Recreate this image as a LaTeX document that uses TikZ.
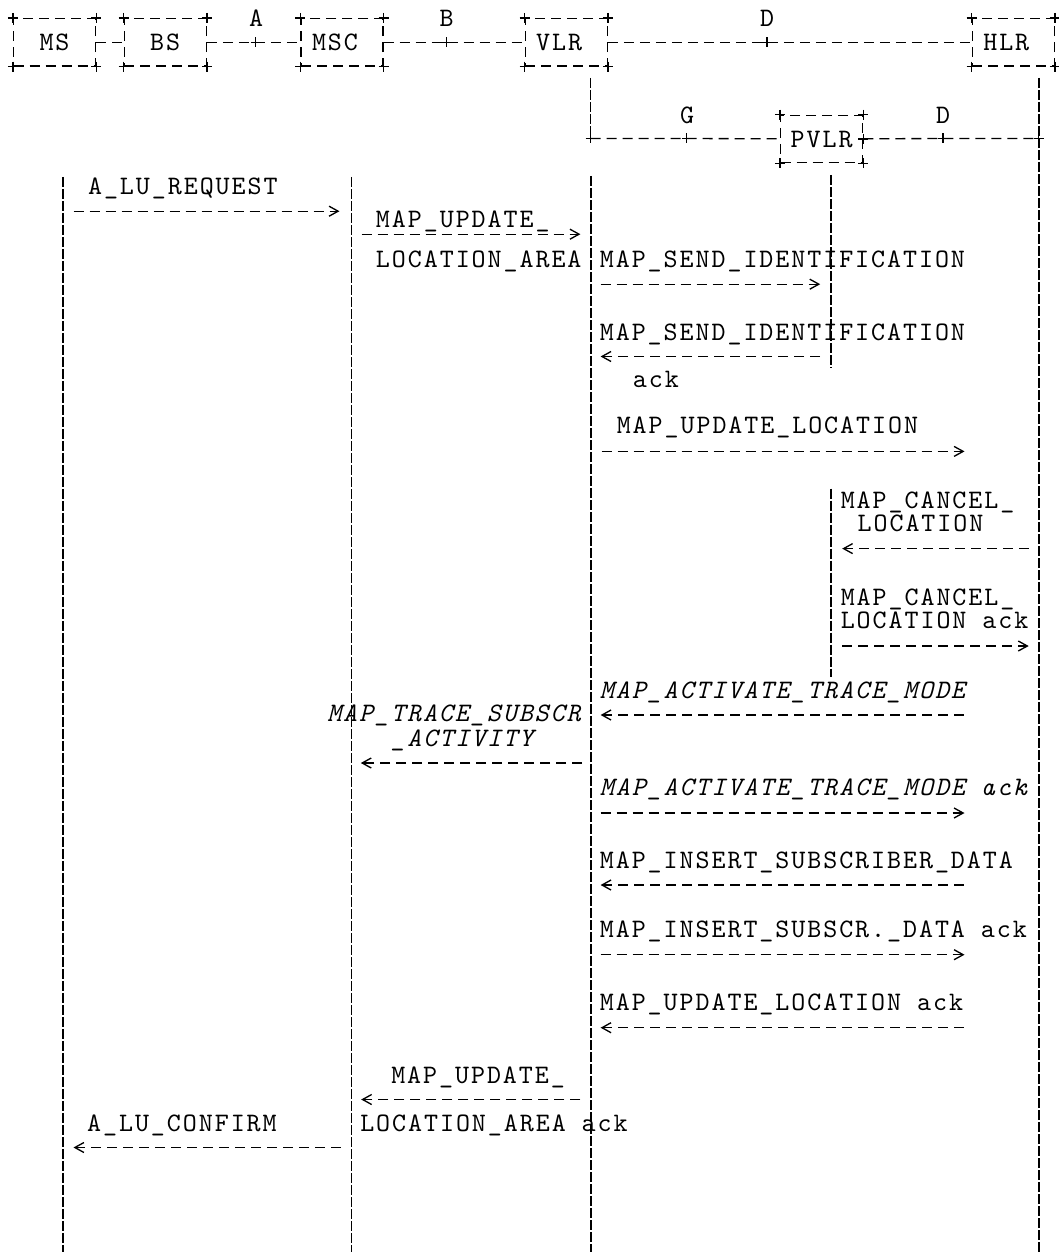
\documentclass[tikz,border=0pt]{standalone}
\usepackage{fontspec}
\newfontfamily\seqfont{lmmono10-regular}[Extension=.otf, ItalicFont=lmmono10-italic, LetterSpace=7.35]
\newcommand\seqsize{\fontsize{20}{24}\selectfont}
\usetikzlibrary{arrows.meta}
\tikzset{
  ent/.style={draw, line width=1pt, dash pattern=on 7.5pt off 4.5pt, minimum width=61.5pt, minimum height=35.6pt, inner sep=0pt, font=\seqfont\seqsize},
  ifl/.style={inner sep=0pt, font=\seqfont\seqsize},
  lbl/.style={inner sep=0pt, text depth=0pt, anchor=base west, font=\seqfont\seqsize},
  ilbl/.style={lbl, font=\seqfont\seqsize\itshape},
  ifc/.style={line width=1pt, dash pattern=on 7.5pt off 4.5pt},
  life/.style={line width=1.1pt, dash pattern=on 7.5pt off 1.5pt},
  msg/.style={ifc, -{Straight Barb[length=6.8pt, width=7.5pt]}},
  plus/.pic={\draw[line width=1pt] (-5,0) -- (5,0) (0,-5) -- (0,5);}
}
\begin{document}
\begin{tikzpicture}[x=0.75pt, y=-0.75pt]
\useasboundingbox (0,0) rectangle (1058,1252);
\node[ent] (ms) at (54.5,42.3) {MS};
\node[ent] (bs) at (165.2,42.3) {BS};
\node[ent] (msc) at (342,42.3) {MSC\phantom{X}};
\node[ent] (vlr) at (566.2,42.3) {VLR\phantom{X}};
\node[ent] (hlr) at (1013.3,42.3) {HLR\phantom{X}};
\node[ent] (pvlr) at (821.6,139) {PVLR};
\coordinate (ja) at (255.7,42.3);
\coordinate (jb) at (446.7,42.3);
\coordinate (jd) at (767,42.3);
\coordinate (vlrd) at (590.7,78);
\coordinate (cg) at (590.7,138.5);
\coordinate (jg) at (686.8,138.5);
\coordinate (jd2) at (942.9,138.5);
\coordinate (ch) at (1038.8,138.5);
\coordinate (hlrd) at (1038.8,78);
\node[ifl] (lA) at (256,18.6) {A};
\node[ifl] (lB) at (446.6,18.6) {B};
\node[ifl] (lD) at (767,18.6) {D};
\node[ifl] (lG) at (687,115) {G};
\node[ifl] (lD2) at (943,115) {D};
\draw[ifc] (ms) -- (bs);
\draw[ifc] (bs) -- (ja) -- (msc);
\draw[ifc] (msc) -- (jb) -- (vlr);
\draw[ifc] (vlr) -- (jd) -- (hlr);
\draw[life] (vlrd) -- (cg);
\draw[ifc] (cg) -- (jg) -- (pvlr);
\draw[ifc] (pvlr) -- (jd2) -- (ch);
\foreach \c in {ms,bs,msc,vlr,hlr,pvlr}
  \foreach \a in {north west,north east,south west,south east}
    \pic at (\c.\a) {plus};
\foreach \c in {ja,jb,jd,cg,jg,jd2,ch,pvlr.east}
  \pic at (\c) {plus};
% lifelines
\coordinate (msT) at (63,176.8);
\coordinate (msE) at (63,1252);
\coordinate (mscT) at (351.3,176.8);
\coordinate (mscE) at (351.3,1252);
\coordinate (vlrT) at (591,176);
\coordinate (vlrE) at (591,1252);
\coordinate (hlrE) at (1038.8,1252);
\coordinate (pvT) at (831,175);
\coordinate (pvM) at (831,368);
\coordinate (pvN) at (831,488.5);
\coordinate (pvE) at (831,676.5);
\draw[life] (msT) -- (msE);
\draw[life] (mscT) -- (mscE);
\draw[life] (vlrT) -- (vlrE);
\draw[life] (hlrd) -- (hlrE);
\draw[life] (pvT) -- (pvM);
\draw[life] (pvN) -- (pvE);
% messages
\node[lbl] (lureq) at (87.8,194.4) {A\_LU\_REQUEST};
\node[lbl] (upd1a) at (375.7,227.5) {MAP\_UPDATE\_};
\node[lbl] (upd1b) at (375.7,267) {LOCATION\_AREA};
\node[lbl] (sid1) at (599.6,267) {MAP\_SEND\_IDENTIFICATION};
\node[lbl] (sid2) at (599.6,340.7) {MAP\_SEND\_IDENTIFICATION};
\node[lbl] (sidack) at (632.7,387) {ack};
\node[lbl] (ul) at (616.5,433.9) {MAP\_UPDATE\_LOCATION};
\node[lbl] (can1a) at (840.5,508.2) {MAP\_CANCEL\_};
\node[lbl] (can1b) at (857.4,531.8) {LOCATION};
\node[lbl] (can2a) at (840.5,605.1) {MAP\_CANCEL\_};
\node[lbl] (can2b) at (840.5,628.8) {LOCATION ack};
\node[ilbl] (atm) at (599.6,698.9) {MAP\_ACTIVATE\_TRACE\_MODE};
\node[ilbl] (tsa) at (327,721.5) {MAP\_TRACE\_SUBSCR};
\node[ilbl] (tsb) at (391.2,746.9) {\_ACTIVITY};
\node[ilbl] (atmack) at (599.6,795.5) {MAP\_ACTIVATE\_TRACE\_MODE ack};
\node[lbl] (isd) at (599.6,868.8) {MAP\_INSERT\_SUBSCRIBER\_DATA};
\node[lbl] (isdack) at (599.6,937.9) {MAP\_INSERT\_SUBSCR.\_DATA ack};
\node[lbl] (ulack) at (599.6,1010.5) {MAP\_UPDATE\_LOCATION ack};
\node[lbl] (upd2a) at (391,1083) {MAP\_UPDATE\_};
\node[lbl] (upd2b) at (360,1131) {LOCATION\_AREA ack};
\node[lbl] (luconf) at (86.9,1131) {A\_LU\_CONFIRM};
\foreach \nm/\xa/\xb/\yy in {
    a1/73.6/339.5/211.2, a2/361.5/580.4/234.2, a3/600.6/820.2/284.2,
    a4/820/600.6/356.5, a5/601.6/964.5/451.4, a6/1028.7/842.2/548.6,
    a7/842/1028.7/646, a8/963.8/600.6/715, a9/582/360.8/763,
    a10/600.6/964.5/813, a11/963.8/600.6/885, a12/600.6/964.5/954.7,
    a13/963.8/600.6/1027.7, a14/580.4/361.2/1099.5, a15/340.8/73.5/1147.5} {
  \coordinate (\nm-s) at (\xa,\yy);
  \coordinate (\nm-e) at (\xb,\yy);
  \draw[msg] (\nm-s) -- (\nm-e);
}
\end{tikzpicture}
\end{document}
